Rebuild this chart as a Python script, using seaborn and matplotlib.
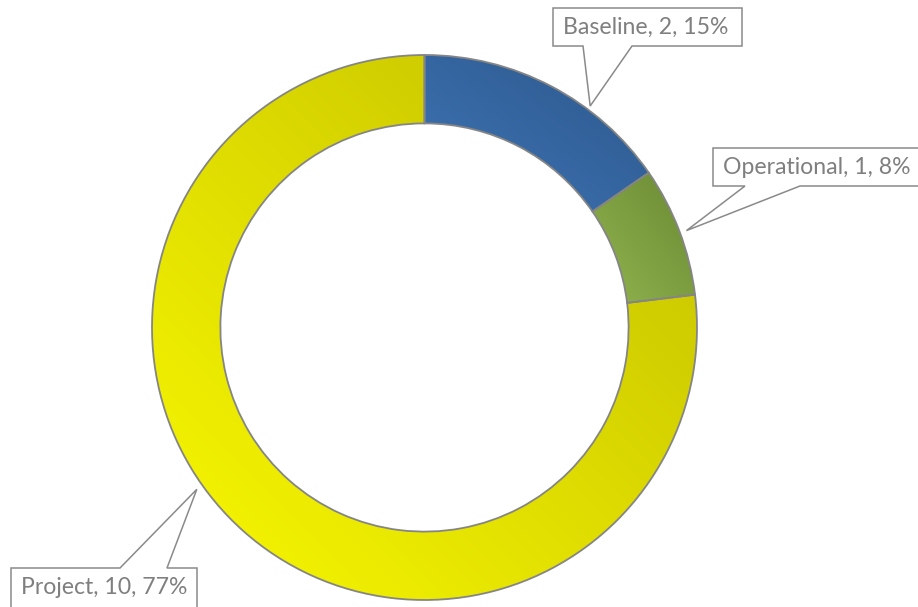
import numpy as np
import matplotlib
matplotlib.use("Agg")
import matplotlib.pyplot as plt
from matplotlib.patches import Polygon
import seaborn as sns

# Chart data
categories = ["Baseline", "Operational", "Project"]
counts = [2, 1, 10]
percent_labels = ["15%", "8%", "77%"]

# Gradient stops per slice (light at lower-left, dark at upper-right)
light_colors = ["#3e75b6", "#91b54e", "#f9f900"]
dark_colors = ["#2d578b", "#6a8834", "#c2be00"]

sns.set_theme(style="white")
plt.rcParams["font.family"] = ["Lato", "DejaVu Sans"]

W, H, DPI = 918, 607, 100
fig = plt.figure(figsize=(W / DPI, H / DPI), dpi=DPI)
ax = fig.add_axes([0, 0, 1, 1])

# Pixel layout of the ring
CX, CY, R = 424.5, 327.5, 272.5


def px(x, y):
    """Convert a pixel position (y down) into data units of the ring."""
    return ((x - CX) / R, (CY - y) / R)


wedges, _ = ax.pie(
    counts,
    startangle=90,
    counterclock=False,
    radius=1.0,
    wedgeprops=dict(width=0.251, edgecolor="#858585", linewidth=1.3),
)

# Fill each slice with a diagonal linear gradient
for w, lc, dc in zip(wedges, light_colors, dark_colors):
    w.set_facecolor("none")
    w.set_zorder(3)
    path = w.get_path().transformed(w.get_patch_transform())
    bb = path.get_extents()
    n = 300
    u = np.linspace(0, 1, n)
    v = np.linspace(0, 1, n)
    U, V = np.meshgrid(u, v)
    T = (U + V) / 2.0
    cmap = sns.blend_palette([lc, dc], n_colors=256, as_cmap=True)
    im = ax.imshow(
        T,
        cmap=cmap,
        origin="lower",
        extent=[bb.x0, bb.x1, bb.y0, bb.y1],
        vmin=0,
        vmax=1,
        interpolation="bilinear",
        zorder=2,
    )
    im.set_clip_path(w)

x0, y0 = px(0, H)
x1, y1 = px(W, 0)
ax.set_xlim(x0, x1)
ax.set_ylim(y0, y1)
ax.set_aspect("auto")
ax.axis("off")

# Callout labels: box (left, top, right, bottom in px), pointer base x's, tip angle/radius
callouts = [
    dict(box=(553, 8, 742, 46), side="bottom", base=(583, 632), angle=36.8, r=1.015),
    dict(box=(713, 148, 930, 186), side="bottom", base=(745, 800), angle=69.7, r=1.025),
    dict(box=(11, 568, 197, 620), side="top", base=(120, 167), angle=234.6, r=1.025),
]

edge_gray = "#8a8a8a"
text_gray = "#7f7f7f"
for cat, cnt, pct, c in zip(categories, counts, percent_labels, callouts):
    l, t, rgt, b = c["box"]
    a = np.deg2rad(c["angle"])
    tip = (c["r"] * np.sin(a), c["r"] * np.cos(a))
    bx1, bx2 = c["base"]
    if c["side"] == "bottom":
        pts = [px(l, t), px(rgt, t), px(rgt, b), px(bx2, b), tip, px(bx1, b), px(l, b)]
        ty = (t + b) / 2
    else:
        pts = [px(l, t), px(bx1, t), tip, px(bx2, t), px(rgt, t), px(rgt, b), px(l, b)]
        ty = t + 19
    ax.add_patch(
        Polygon(pts, closed=True, facecolor="white", edgecolor=edge_gray,
                linewidth=1.1, zorder=4)
    )
    tx, tyd = px(l + 10, ty)
    ax.text(tx, tyd, f"{cat}, {cnt}, {pct}", color=text_gray, fontsize=16.6,
            ha="left", va="center", zorder=5)

fig.savefig("out.png", dpi=DPI, facecolor="white")
